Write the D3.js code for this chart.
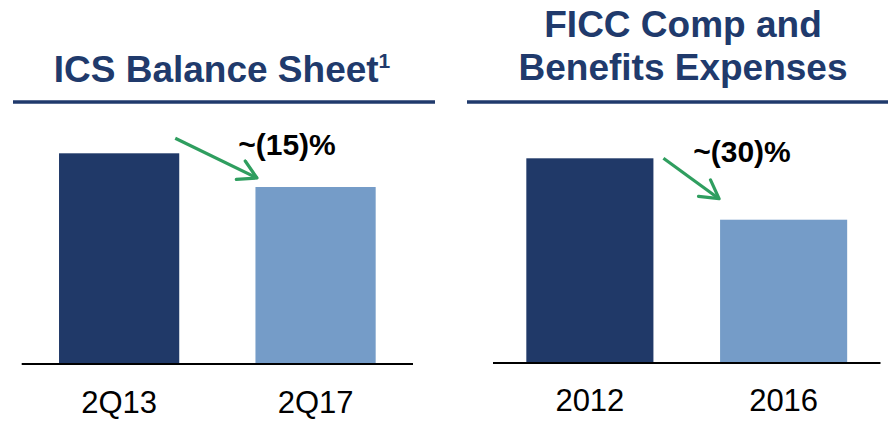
<!DOCTYPE html>
<html>
<head>
<meta charset="utf-8">
<script src="https://cdn.jsdelivr.net/npm/d3@7"></script>
<style>
  body { margin: 0; background: #fff; }
  svg { display: block; font-family: "Liberation Sans", Arial, sans-serif; }
</style>
</head>
<body>
<svg id="chart" width="888" height="426"></svg>
<script>
// ICS balance sheet, indexed to 2Q13 = 100
var icsCategories = ['2Q13', '2Q17'];
var icsValues = [100, 84];
var icsChange = '~(15)%';

// FICC comp and benefits, indexed to 2012 = 100
var ficcCategories = ['2012', '2016'];
var ficcValues = [100, 70];
var ficcChange = '~(30)%';

var NAVY = '#203a6c';
var DARK = '#203968';
var LIGHT = '#759cc8';
var GREEN = '#2f9e5f';

var svg = d3.select('#chart');

/* arrowhead: two strokes meeting at the tip */
var defs = svg.append('defs');
defs.append('marker')
    .attr('id', 'head')
    .attr('viewBox', '0 0 22 24')
    .attr('refX', 20).attr('refY', 12)
    .attr('markerWidth', 22).attr('markerHeight', 24)
    .attr('markerUnits', 'userSpaceOnUse')
    .attr('orient', 'auto')
  .append('path')
    .attr('d', 'M2,1.8 L20,12 L2,22.2')
    .attr('fill', 'none')
    .attr('stroke', GREEN)
    .attr('stroke-width', 3.2)
    .attr('stroke-linecap', 'round')
    .attr('stroke-linejoin', 'round');

function drawPanel(opt) {
    var g = svg.append('g');

    // title
    var title = g.append('text')
        .attr('text-anchor', 'middle')
        .attr('fill', NAVY)
        .style('font-weight', 'bold')
        .style('font-size', '37px');
    opt.title.forEach(function(line, i) {
        title.append('tspan')
            .attr('x', opt.titleX)
            .attr('y', opt.titleY + i * 43)
            .text(line);
    });
    if (opt.note) {
        title.append('tspan')
            .attr('dy', -14)
            .style('font-size', '21px')
            .text(opt.note);
    }

    g.append('line')
        .attr('x1', opt.rule[0]).attr('x2', opt.rule[1])
        .attr('y1', 102).attr('y2', 102)
        .attr('stroke', NAVY)
        .attr('stroke-width', 3.5);

    var x = d3.scaleBand()
        .domain(opt.categories)
        .range(opt.xRange)
        .paddingInner(opt.padIn)
        .paddingOuter(opt.padOut);

    var y = d3.scaleLinear()
        .domain([0, 100])
        .range([opt.base, opt.top]);

    g.selectAll('rect')
        .data(opt.values)
        .enter().append('rect')
        .attr('x', function(d, i) { return x(opt.categories[i]); })
        .attr('y', function(d) { return y(d); })
        .attr('width', x.bandwidth())
        .attr('height', function(d) { return y(0) - y(d); })
        .attr('fill', function(d, i) { return i === 0 ? DARK : LIGHT; });

    // baseline without ticks, labels below
    var axis = g.append('g')
        .attr('transform', 'translate(0,' + opt.base + ')')
        .call(d3.axisBottom(x).tickSize(0).tickPadding(0));
    axis.select('.domain')
        .attr('d', 'M' + opt.xRange[0] + ',0H' + opt.xRange[1])
        .attr('stroke', '#000')
        .attr('stroke-width', 2);
    axis.selectAll('text')
        .attr('y', opt.labelDy)
        .attr('dy', 0)
        .attr('fill', '#000')
        .style('font-family', '"Liberation Sans", Arial, sans-serif')
        .style('font-size', '31px');

    // change arrow from first bar to second bar
    var c0 = opt.categories[0], c1 = opt.categories[1];
    var a = opt.arrow;
    g.append('line')
        .attr('x1', x(c0) + x.bandwidth() + a[0])
        .attr('y1', y(opt.values[0]) + a[1])
        .attr('x2', x(c1) + a[2])
        .attr('y2', y(opt.values[1]) + a[3])
        .attr('stroke', GREEN)
        .attr('stroke-width', 3.2)
        .attr('marker-end', 'url(#head)');

    g.append('text')
        .attr('x', opt.changeXY[0])
        .attr('y', opt.changeXY[1])
        .attr('text-anchor', 'middle')
        .attr('fill', '#000')
        .style('font-weight', 'bold')
        .style('font-size', '30px')
        .text(opt.change);
}

drawPanel({
    title: ['ICS Balance Sheet'],
    note: '1',
    titleX: 222,
    titleY: 82,
    rule: [13, 435],
    categories: icsCategories,
    values: icsValues,
    change: icsChange,
    xRange: [21.7, 413],
    padIn: 0.388,
    padOut: 0.19,
    base: 364,
    top: 153.3,
    labelDy: 49,
    arrow: [-4, -15, 1.5, -9],
    changeXY: [287, 155]
});

drawPanel({
    title: ['FICC Comp and', 'Benefits Expenses'],
    titleX: 683,
    titleY: 37,
    rule: [467, 888],
    categories: ficcCategories,
    values: ficcValues,
    change: ficcChange,
    xRange: [493, 880.5],
    padIn: 0.344,
    padOut: 0.172,
    base: 363,
    top: 158.3,
    labelDy: 48,
    arrow: [10, 0, -1, -21],
    changeXY: [742, 162]
});
</script>
</body>
</html>
